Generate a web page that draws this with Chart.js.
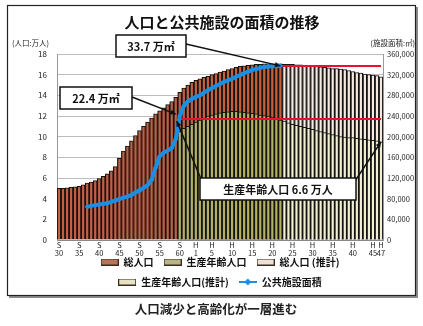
<!DOCTYPE html>
<html><head><meta charset="utf-8">
<script src="https://cdn.jsdelivr.net/npm/chart.js@4.4.1/dist/chart.umd.min.js"></script>
<style>html,body{margin:0;padding:0;background:#fff;overflow:hidden}canvas{display:block}</style>
</head><body>
<canvas id="c" width="423" height="326"></canvas>
<script>
// ---- categories (annual, S30 = 1955 ... H47 = 2035) ----
const categories = ['S30','S31','S32','S33','S34','S35','S36','S37','S38','S39','S40','S41','S42','S43','S44','S45','S46','S47','S48','S49','S50','S51','S52','S53','S54','S55','S56','S57','S58','S59','S60','S61','S62','S63',
'H1','H2','H3','H4','H5','H6','H7','H8','H9','H10','H11','H12','H13','H14','H15','H16','H17','H18','H19','H20','H21','H22','H23','H24','H25','H26','H27','H28','H29','H30','H31','H32','H33','H34','H35','H36','H37','H38','H39','H40','H41','H42','H43','H44','H45','H46','H47'];
const tickLabels = ['S30','S35','S40','S45','S50','S55','S60','H1','H5','H10','H15','H20','H25','H30','H35','H40','H45','H47'];

// ---- series (万人) ----
const totalActualStart = 'S30';
const totalActual = [5.0,5.0,5.05,5.1,5.15,5.2,5.35,5.5,5.6,5.75,5.95,6.15,6.4,6.7,7.1,7.9,8.6,9.1,9.6,10.1,10.6,11.0,11.4,11.8,12.2,12.5,12.8,13.1,13.4,13.8,14.3,14.7,15.0,15.25,15.45,15.6,15.75,15.85,16.0,16.1,16.25,16.35,16.5,16.6,16.7,16.8,16.85,16.9,16.95,17.0,17.0,17.05,17.05,17.05,17.05,17.05];
const workingActualStart = 'S60';
const workingActual = [10.5,10.8,11.0,11.2,11.4,11.6,11.8,12.0,12.1,12.2,12.3,12.35,12.4,12.45,12.45,12.4,12.35,12.3,12.25,12.2,12.1,12.05,12.0,11.9,11.8,11.6];
const estimateStart = 'H23';
const totalEstimate = [17.0,17.0,17.0,16.95,16.95,16.9,16.85,16.8,16.8,16.75,16.7,16.65,16.6,16.6,16.55,16.5,16.4,16.3,16.2,16.15,16.05,16.0,15.95,15.9,15.8];
const workingEstimate = [11.5,11.35,11.2,11.1,11.0,10.9,10.8,10.7,10.6,10.5,10.4,10.3,10.2,10.1,10.0,9.95,9.9,9.9,9.85,9.8,9.75,9.7,9.65,9.6,9.5];
// ---- public facility floor area (㎡) ----
const facilityStart = 'S37';
const facilityArea = [64500,66000,67500,68500,70000,71000,74000,76500,79000,82000,84000,87000,92000,96000,101000,106000,116000,140000,162000,169000,173000,178000,195000,240000,259000,268000,273000,277000,280000,285000,290000,294000,298000,302000,306000,309000,312000,316000,319000,323000,326000,329000,331000,333000,335000,336000,336500,337000,337000];
// reference levels (㎡)
const peakLevel = {from:'H22', value:337000};
const s60Level = {from:'S60', value:234000};

const C = {total:'#c4603c', working:'#b2b063', totalEst:'#f6ebe2', workingEst:'#f2f0d4', line:'#1b8fe2', red:'#e5132b'};

const N = categories.length;
function place(values, startCat){ const a = new Array(N).fill(null); const s = categories.indexOf(startCat); values.forEach((v,k)=>{a[s+k]=v;}); return a; }
function level(l){ const a = new Array(N).fill(null); for(let i=categories.indexOf(l.from);i<N;i++) a[i]=l.value; return a; }

function boxSym(fill){ const c=document.createElement('canvas'); c.width=18; c.height=7; const g=c.getContext('2d');
  g.fillStyle=fill; g.fillRect(0.5,0.5,17,6); g.strokeStyle='#3a2a20'; g.lineWidth=1; g.strokeRect(0.5,0.5,17,6); return c; }
function lineSym(){ const c=document.createElement('canvas'); c.width=18; c.height=8; const g=c.getContext('2d');
  g.strokeStyle=C.line; g.lineWidth=2; g.beginPath(); g.moveTo(0,4); g.lineTo(18,4); g.stroke();
  g.fillStyle=C.line; g.beginPath(); g.moveTo(9,0.5); g.lineTo(12.5,4); g.lineTo(9,7.5); g.lineTo(5.5,4); g.closePath(); g.fill(); return c; }
const syms = [boxSym('#b87458'), boxSym('#b9b486'), boxSym('#eee0d6'), boxSym('#e6e3c4'), lineSym()];

const FONT = "'Noto Sans CJK JP', 'Liberation Sans', sans-serif";
Chart.defaults.font.family = FONT;
Chart.defaults.color = '#222';

const barCommon = {type:'bar', grouped:false, borderColor:'#141414', borderWidth:{top:1,left:1.25,right:1.25,bottom:0}, barPercentage:1, categoryPercentage:1, yAxisID:'y'};

function drawPointer(ctx,x1,y1,x2,y2){
  ctx.beginPath(); ctx.moveTo(x1,y1); ctx.lineTo(x2,y2); ctx.stroke();
  const a=Math.atan2(y2-y1,x2-x1);
  ctx.beginPath(); ctx.moveTo(x2,y2);
  ctx.lineTo(x2-6*Math.cos(a-0.45), y2-6*Math.sin(a-0.45));
  ctx.lineTo(x2-6*Math.cos(a+0.45), y2-6*Math.sin(a+0.45)); ctx.closePath(); ctx.fill();
}
function drawBox(ctx,x,y,w,h,text,size){
  ctx.fillStyle='#fff'; ctx.fillRect(x,y,w,h);
  ctx.strokeStyle='#111'; ctx.lineWidth=1.5; ctx.strokeRect(x,y,w,h);
  ctx.fillStyle='#111'; ctx.font='bold '+size+'px '+FONT; ctx.textAlign='center'; ctx.textBaseline='middle';
  ctx.fillText(text,x+w/2,y+h/2+0.5);
}

const deco = {
  id:'deco',
  beforeLayout(chart){
    const lg = chart.legend;
    if (lg && !lg._rowPatch){ const orig = lg.update.bind(lg); lg.update = (mw,mh,m)=>orig(Math.min(mw,300),mh,m); lg._rowPatch = true; }
  },
  afterLayout(chart){
    const lg = chart.legend; if (lg){ lg.top -= 10; lg.bottom -= 10; }
  },
  beforeDraw(chart){
    const ctx=chart.ctx; ctx.save();
    ctx.fillStyle='#fff'; ctx.fillRect(0,0,chart.width,chart.height);
    ctx.fillStyle='#8c8c8c'; ctx.fillRect(9,296,408,2); ctx.fillRect(416,7,2,291);
    ctx.strokeStyle='#222'; ctx.lineWidth=1.2; ctx.strokeRect(7.5,5.5,408,290);
    ctx.restore();
  },
  afterDraw(chart){
    const ctx=chart.ctx; ctx.save();
    ctx.fillStyle='#111'; ctx.font='bold 15px '+FONT; ctx.textAlign='center'; ctx.textBaseline='middle';
    ctx.fillText('人口と公共施設の面積の推移',222,22);
    ctx.font='7.5px '+FONT; ctx.fillStyle='#222';
    ctx.textAlign='left'; ctx.fillText('(人口:万人)',12,43);
    ctx.textAlign='right'; ctx.fillText('(施設面積:㎡)',415,43);
    ctx.textAlign='center'; ctx.font='bold 12.5px '+FONT; ctx.fillStyle='#222';
    ctx.fillText('人口減少と高齢化が一層進む',216,309);
    const iEnd = facilityArea.length-1;
    const pPeak = chart.getDatasetMeta(4).data[categories.indexOf(facilityStart)+iEnd];
    const pS60 = chart.getDatasetMeta(6).data[categories.indexOf(s60Level.from)];
    const pLast = chart.getDatasetMeta(3).data[N-1];
    ctx.strokeStyle='#111'; ctx.fillStyle='#111'; ctx.lineWidth=1.5;
    drawPointer(ctx,186,44,pPeak.x,pPeak.y);
    drawPointer(ctx,132,97,pS60.x-4,pS60.y-5);
    drawPointer(ctx,201,179,pS60.x-3,pS60.y+2);
    drawPointer(ctx,355,181,pLast.x,pLast.y);
    drawBox(ctx,116,35,70,22,'33.7 万㎡',11);
    drawBox(ctx,60,87,72,22,'22.4 万㎡',11);
    drawBox(ctx,200,178,156,22,'生産年齢人口 6.6 万人',11);
    ctx.restore();
  }
};

new Chart(document.getElementById('c'), {
  data:{
    labels:categories,
    datasets:[
      {...barCommon, label:'総人口', data:place(totalActual,totalActualStart), backgroundColor:C.total, order:3},
      {...barCommon, label:'生産年齢人口', data:place(workingActual,workingActualStart), backgroundColor:C.working, order:2},
      {...barCommon, label:'総人口 (推計)', data:place(totalEstimate,estimateStart), backgroundColor:C.totalEst, order:3},
      {...barCommon, label:'生産年齢人口(推計)', data:place(workingEstimate,estimateStart), backgroundColor:C.workingEst, order:2},
      {type:'line', label:'公共施設面積', data:place(facilityArea,facilityStart), yAxisID:'y1', borderColor:C.line, backgroundColor:C.line,
        borderWidth:4, pointStyle:'rectRot', pointRadius:2.6, pointBorderWidth:0, order:0, tension:0},
      {type:'line', label:'peak', data:level(peakLevel), yAxisID:'y1', borderColor:C.red, borderWidth:2, pointRadius:0, order:1},
      {type:'line', label:'s60', data:level(s60Level), yAxisID:'y1', borderColor:C.red, borderWidth:2, pointRadius:0, order:1}
    ]
  },
  options:{
    responsive:false, animation:false,
    layout:{padding:{left:17,right:0,top:54,bottom:19}},
    plugins:{
      tooltip:{enabled:false},
      legend:{
        position:'bottom',
        labels:{
          usePointStyle:true, pointStyleWidth:18, padding:10, color:'#111',
          font:{size:10, weight:'bold'},
          filter:(item)=>item.datasetIndex<5,
          sort:(a,b)=>a.datasetIndex-b.datasetIndex,
          generateLabels(chart){
            return Chart.defaults.plugins.legend.labels.generateLabels(chart).map(it=>{ it.pointStyle=syms[it.datasetIndex]; return it; });
          }
        }
      }
    },
    scales:{
      x:{
        grid:{display:false, drawTicks:false}, border:{display:true,color:'#888'},
        afterFit(s){ s.height=17; },
        ticks:{autoSkip:false, maxRotation:0, minRotation:0, padding:1, color:'#222',
          font:{size:7.5, lineHeight:1.1},
          callback(v){ const l=this.getLabelForValue(v); return tickLabels.includes(l) ? [l[0], l.slice(1)] : ''; }
        }
      },
      y:{
        position:'left', min:0, max:18,
        afterFit(s){ s.width=40; },
        grid:{color:'#bcbcbc', drawTicks:false}, border:{display:true,color:'#999'},
        ticks:{stepSize:2, padding:10, color:'#222', font:{size:8}}
      },
      y1:{
        position:'right', min:0, max:360000,
        afterFit(s){ s.width=40; },
        grid:{display:false, drawTicks:false}, border:{display:true,color:'#999'},
        ticks:{stepSize:40000, padding:4, color:'#222', font:{size:7.5},
          callback(v){ return v.toLocaleString('en-US'); } }
      }
    }
  },
  plugins:[deco]
});
</script>
</body></html>
